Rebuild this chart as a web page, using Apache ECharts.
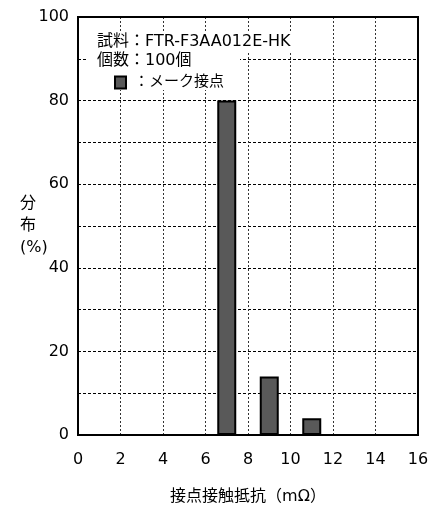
<!DOCTYPE html>
<html>
<head>
<meta charset="utf-8">
<script src="https://cdn.jsdelivr.net/npm/echarts@6/dist/echarts.min.js"></script>
<style>
  html, body { margin: 0; padding: 0; background: #fff; }
  #chart1 { width: 441px; height: 506px; }
</style>
</head>
<body>
<div id="chart1"></div>
<script>
// 接点接触抵抗の分布
var resistance = [7, 9, 11];      // mΩ (棒の中心)
var share = [80, 14, 4];          // 分布 (%)
var xTicks = [0, 2, 4, 6, 8, 10, 12, 14, 16];
var yTicks = [0, 20, 40, 60, 80, 100];
var infoLines = ["試料：FTR-F3AA012E-HK", "個数：100個"];
var seriesName = "メーク接点";

var FONT = "'DejaVu Sans', 'Noto Sans CJK JP', sans-serif";

function char1() {
    var myChart = echarts.init(document.getElementById("chart1"));

    var barData = [];
    for (var i = 0; i < resistance.length; i++) {
        barData.push([resistance[i], share[i]]);
    }

    var option = {
        animation: false,
        backgroundColor: "#ffffff",
        textStyle: { fontFamily: FONT },
        grid: {
            left: 78, right: 23, top: 17, bottom: 71,
            outerBoundsMode: "none",
            containLabel: false,
            show: true,
            borderColor: "#000000",
            borderWidth: 2,
            z: 3
        },
        legend: {
            left: 109,
            top: 70,
            z: 100,
            icon: "rect",
            itemWidth: 11,
            itemHeight: 12,
            data: [seriesName],
            formatter: "：{name}",
            textStyle: { fontSize: 15, color: "#000", fontFamily: FONT, padding: [0, 0, 0, 3] }
        },
        xAxis: {
            type: "value",
            min: xTicks[0],
            max: xTicks[xTicks.length - 1],
            interval: 2,
            name: "接点接触抵抗（mΩ）",
            nameLocation: "middle",
            nameGap: 54,
            nameTextStyle: { fontSize: 16, color: "#000", fontFamily: FONT },
            axisLine: { show: true, lineStyle: { color: "#000", width: 2 } },
            axisTick: { show: false },
            axisLabel: { fontSize: 16, color: "#000", margin: 17, fontFamily: FONT },
            splitLine: { show: true, lineStyle: { color: "#333", type: [2, 2], width: 1 } }
        },
        yAxis: {
            type: "value",
            min: 0,
            max: 100,
            interval: 10,
            axisLine: { show: true, lineStyle: { color: "#000", width: 2 } },
            axisTick: { show: false },
            axisLabel: {
                fontSize: 16, color: "#000", margin: 9, fontFamily: FONT,
                formatter: function (v) {
                    return yTicks.indexOf(v) >= 0 ? String(v) : "";
                }
            },
            splitLine: { show: true, lineStyle: { color: "#000", type: [3, 2], width: 1 } }
        },
        graphic: [
            { type: "rect", z: 50, shape: { x: 86, y: 32, width: 214, height: 19 }, style: { fill: "#fff" } },
            { type: "rect", z: 50, shape: { x: 86, y: 51, width: 154, height: 19 }, style: { fill: "#fff" } },
            { type: "rect", z: 50, shape: { x: 86, y: 70, width: 148, height: 20 }, style: { fill: "#fff" } },
            {
                type: "text", z: 60, left: 97, top: 34,
                style: { text: infoLines[0], font: "16px " + FONT, fill: "#000" }
            },
            {
                type: "text", z: 60, left: 97, top: 53,
                style: { text: infoLines[1], font: "16px " + FONT, fill: "#000" }
            },
            {
                type: "text", z: 60, left: 20, top: 193,
                style: { text: "分\n布\n(%)", font: "16px " + FONT, fill: "#000", align: "center", lineHeight: 22 }
            }
        ],
        series: [
            {
                name: seriesName,
                type: "bar",
                barWidth: 19,
                itemStyle: { color: "#595959", borderColor: "#000", borderWidth: 2 },
                data: barData
            }
        ]
    };

    myChart.setOption(option);
    window.addEventListener("resize", function () {
        myChart.resize();
    });
}

char1();
</script>
</body>
</html>
